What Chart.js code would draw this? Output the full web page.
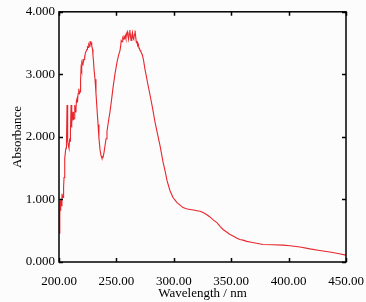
<!DOCTYPE html>
<html lang="en">
<head>
  <meta charset="UTF-8" />
  <title>Absorbance spectrum</title>
  <script src="https://cdn.jsdelivr.net/npm/chart.js"></script>
  <style>
    html, body { margin: 0; padding: 0; background: #fcfcfc; }
    #wrap { width: 366px; height: 302px; }
  </style>
</head>
<body>
  <div id="wrap"><canvas id="spec" width="366" height="302"></canvas></div>

  <script>
    // wavelengths (nm) and absorbance
    const wavelength = [
      200.4, 200.7, 201.0, 201.3, 201.7, 202.1, 202.6, 203.0, 203.5, 204.0,
      204.4, 204.8, 205.2, 205.7, 206.1, 206.5, 207.0, 207.3, 207.8, 208.3,
      208.7, 209.2, 209.6, 210.0, 210.5, 210.9, 211.3, 211.8, 212.2, 212.6,
      213.1, 213.5, 213.9, 214.4, 214.8, 215.2, 215.7, 216.1, 216.6, 217.0,
      217.4, 217.9, 218.3, 218.8, 219.2, 219.6, 220.0, 220.5, 220.9, 221.3,
      221.8, 222.2, 222.6, 223.1, 223.5, 224.0, 224.4, 224.8, 225.3, 225.7,
      226.1, 226.6, 227.0, 227.4, 227.9, 228.3, 228.7, 229.2, 229.6, 230.1,
      230.5, 231.4, 232.2, 233.1, 234.0, 234.8, 235.7, 236.6, 237.4, 238.3,
      239.2, 240.1, 241.0, 241.8, 243.1, 244.4, 245.7, 247.0, 248.7, 250.5,
      251.8, 253.1, 253.7, 254.2, 254.9, 255.5, 256.0, 256.6, 257.2, 257.7,
      258.3, 258.9, 259.5, 260.0, 260.6, 261.2, 261.7, 262.3, 262.8, 263.4,
      264.0, 264.5, 265.1, 265.7, 266.2, 266.8, 267.4, 268.0, 268.5, 269.1,
      269.7, 270.2, 270.8, 271.4, 272.0, 272.5, 273.7, 274.9, 276.2, 277.5,
      279.3, 281.5, 283.6, 285.8, 288.0, 290.6, 292.5, 294.1, 296.7, 299.3,
      302.8, 305.5, 308.0, 311.0, 314.1, 317.0, 320.2, 323.0, 325.4, 328.5,
      331.5, 334.5, 337.6, 340.3, 342.9, 346.0, 349.0, 352.0, 355.0, 357.6,
      360.3, 363.5, 366.4, 372.0, 377.7, 386.0, 395.1, 401.2, 410.0, 418.6,
      427.0, 436.0, 443.0, 450.0
    ];
    const absorbance = [
      0.46, 0.75, 0.98, 0.82, 1.00, 0.90, 1.09, 1.05, 1.03, 1.20,
      1.35, 1.55, 1.66, 1.78, 1.82, 1.90, 2.51, 2.00, 1.93, 1.85,
      1.82, 1.95, 1.93, 2.10, 2.51, 2.15, 2.24, 2.30, 2.40, 2.28,
      2.29, 2.42, 2.51, 2.40, 2.45, 2.58, 2.61, 2.55, 2.69, 2.75,
      2.77, 2.70, 2.72, 2.90, 3.10, 3.05, 3.19, 3.15, 3.24, 3.20,
      3.24, 3.30, 3.27, 3.35, 3.35, 3.38, 3.40, 3.44, 3.43, 3.47,
      3.48, 3.45, 3.53, 3.49, 3.51, 3.50, 3.46, 3.40, 3.30, 3.20,
      3.08, 2.92, 2.70, 2.45, 2.20, 1.98, 1.80, 1.70, 1.66, 1.67,
      1.75, 1.86, 1.97, 2.09, 2.25, 2.40, 2.58, 2.78, 3.00, 3.19,
      3.30, 3.38, 3.45, 3.54, 3.52, 3.58, 3.56, 3.60, 3.58, 3.62,
      3.57, 3.65, 3.68, 3.62, 3.56, 3.65, 3.71, 3.60, 3.54, 3.62,
      3.67, 3.58, 3.56, 3.64, 3.70, 3.60, 3.51, 3.52, 3.46, 3.48,
      3.42, 3.40, 3.38, 3.36, 3.33, 3.32, 3.22, 3.08, 2.96, 2.83,
      2.67, 2.46, 2.24, 2.05, 1.86, 1.60, 1.45, 1.30, 1.14, 1.03,
      0.95, 0.91, 0.87, 0.85, 0.84, 0.83, 0.82, 0.81, 0.79, 0.76,
      0.72, 0.67, 0.63, 0.57, 0.52, 0.48, 0.44, 0.41, 0.38, 0.36,
      0.35, 0.33, 0.32, 0.30, 0.28, 0.275, 0.27, 0.26, 0.24, 0.21,
      0.185, 0.16, 0.135, 0.11
    ];
    const xTicks = [200, 250, 300, 350, 400, 450];
    const yTicks = [0, 1, 2, 3, 4];

    const serif = "'Liberation Serif', 'Times New Roman', serif";

    // frame on all four sides with ticks pointing inward
    const frameTicks = {
      id: 'frameTicks',
      afterDraw(chart) {
        const { ctx, chartArea: a, scales } = chart;
        const len = 4;
        ctx.save();
        ctx.strokeStyle = '#000';
        ctx.lineWidth = 1.5;
        ctx.strokeRect(a.left, a.top, a.right - a.left, a.bottom - a.top);
        ctx.beginPath();
        xTicks.forEach(v => {
          const px = Math.round(scales.x.getPixelForValue(v)) + 0.5;
          ctx.moveTo(px, a.bottom); ctx.lineTo(px, a.bottom - len);
          ctx.moveTo(px, a.top); ctx.lineTo(px, a.top + len);
        });
        yTicks.forEach(v => {
          const py = Math.round(scales.y.getPixelForValue(v)) + 0.5;
          ctx.moveTo(a.left, py); ctx.lineTo(a.left + len, py);
          ctx.moveTo(a.right, py); ctx.lineTo(a.right - len, py);
        });
        ctx.stroke();
        ctx.restore();
      }
    };

    new Chart(document.getElementById('spec'), {
      type: 'line',
      data: {
        datasets: [{
          data: wavelength.map((w, i) => ({ x: w, y: absorbance[i] })),
          borderColor: '#e8262c',
          borderWidth: 1.1,
          pointRadius: 0,
          tension: 0,
          fill: false
        }]
      },
      options: {
        responsive: false,
        animation: false,
        layout: { padding: { top: 9, right: 20, left: 0, bottom: 0 } },
        plugins: { legend: { display: false }, tooltip: { enabled: false } },
        scales: {
          x: {
            type: 'linear',
            min: 200,
            max: 450,
            afterBuildTicks: s => { s.ticks = xTicks.map(v => ({ value: v })); },
            afterFit: s => { s.height = 40; s.paddingRight = 0; s.paddingLeft = 0; },
            grid: { display: false, drawTicks: false },
            border: { display: false },
            ticks: {
              color: '#000',
              padding: 12,
              maxRotation: 0,
              font: { family: serif, size: 13 },
              callback: v => v.toFixed(2)
            },
            title: {
              display: true,
              text: 'Wavelength / nm',
              color: '#000',
              padding: { top: 0, bottom: 1 },
              font: { family: serif, size: 13 }
            }
          },
          y: {
            min: 0,
            max: 4,
            afterBuildTicks: s => { s.ticks = yTicks.map(v => ({ value: v })); },
            afterFit: s => { s.width = 59; },
            grid: { display: false, drawTicks: false },
            border: { display: false },
            ticks: {
              color: '#000',
              padding: 4,
              font: { family: serif, size: 13 },
              callback: v => v.toFixed(3)
            },
            title: {
              display: true,
              text: 'Absorbance',
              color: '#000',
              padding: { top: 10, bottom: 0 },
              font: { family: serif, size: 13 }
            }
          }
        }
      },
      plugins: [frameTicks]
    });
  </script>
</body>
</html>
